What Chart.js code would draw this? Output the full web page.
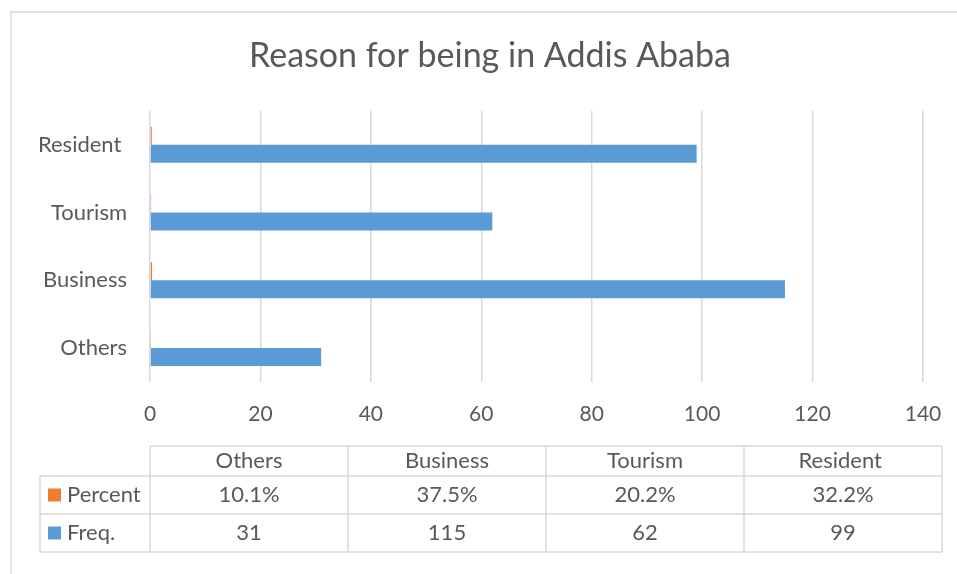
<!DOCTYPE html>
<html>
<head>
<meta charset="utf-8">
<script src="https://cdn.jsdelivr.net/npm/chart.js@4/dist/chart.umd.min.js"></script>
<style>
  html, body { margin: 0; padding: 0; background: #ffffff; }
  #wrap { position: relative; width: 957px; height: 574px; }
</style>
</head>
<body>
<div id="wrap"><canvas id="c" width="957" height="574"></canvas></div>
<script>
// Survey answers: reason for being in Addis Ababa
const categories = ['Others', 'Business', 'Tourism', 'Resident '];
const percentShare = [0.101, 0.375, 0.202, 0.322];
const freqCounts = [31, 115, 62, 99];
const seriesNames = ['Percent', 'Freq.'];
const xTicks = [0, 20, 40, 60, 80, 100, 120, 140];

const ORANGE = '#ED7D31';
const BLUE = '#5B9BD5';
const TEXT = '#595959';
const LINE = '#d9d9d9';
const FONT = 'Lato, "Open Sans", sans-serif';
const TICK_SIZE = 21;
const LABEL_SIZE = 22;

// outer frame of the chart object
const framePlugin = {
  id: 'frame',
  beforeDraw(chart) {
    const ctx = chart.ctx;
    ctx.save();
    ctx.strokeStyle = LINE;
    ctx.lineWidth = 1.5;
    ctx.beginPath();
    ctx.moveTo(11, chart.height);
    ctx.lineTo(11, 12);
    ctx.lineTo(chart.width, 12);
    ctx.stroke();
    ctx.restore();
  }
};

// data table under the value axis, one column per category
const dataTablePlugin = {
  id: 'dataTable',
  afterDraw(chart) {
    const ctx = chart.ctx;
    const area = chart.chartArea;
    const left = area.left;
    const right = area.right + 19;
    const labelLeft = 40;
    const rows = [446, 476, 514, 552];
    const colW = (right - left) / categories.length;
    const series = [
      { name: seriesNames[0], color: ORANGE, values: percentShare.map(v => (v * 100).toFixed(1) + '%') },
      { name: seriesNames[1], color: BLUE, values: freqCounts.map(v => String(v)) }
    ];

    ctx.save();
    ctx.strokeStyle = LINE;
    ctx.lineWidth = 1.5;
    ctx.beginPath();
    ctx.moveTo(left, rows[0]); ctx.lineTo(right, rows[0]);
    ctx.moveTo(labelLeft, rows[1]); ctx.lineTo(right, rows[1]);
    ctx.moveTo(labelLeft, rows[2]); ctx.lineTo(right, rows[2]);
    ctx.moveTo(labelLeft, rows[3]); ctx.lineTo(right, rows[3]);
    ctx.moveTo(labelLeft, rows[1]); ctx.lineTo(labelLeft, rows[3]);
    for (let i = 0; i <= categories.length; i++) {
      const x = left + i * colW;
      ctx.moveTo(x, rows[0]); ctx.lineTo(x, rows[3]);
    }
    ctx.stroke();

    ctx.fillStyle = TEXT;
    ctx.font = LABEL_SIZE + 'px ' + FONT;
    ctx.textAlign = 'center';
    ctx.textBaseline = 'middle';
    categories.forEach((c, i) => {
      ctx.fillText(c, left + (i + 0.5) * colW, (rows[0] + rows[1]) / 2);
    });
    series.forEach((s, r) => {
      const yMid = (rows[r + 1] + rows[r + 2]) / 2;
      ctx.fillStyle = s.color;
      ctx.fillRect(48, yMid - 6.5, 13, 13);
      ctx.fillStyle = TEXT;
      ctx.textAlign = 'left';
      ctx.fillText(s.name, 67, yMid);
      ctx.textAlign = 'center';
      s.values.forEach((v, i) => {
        ctx.fillText(v, left + (i + 0.5) * colW, yMid);
      });
    });
    ctx.restore();
  }
};

new Chart(document.getElementById('c'), {
  type: 'bar',
  data: {
    labels: categories,
    datasets: [
      { label: seriesNames[0], data: percentShare, backgroundColor: ORANGE, borderWidth: 0 },
      { label: seriesNames[1], data: freqCounts, backgroundColor: BLUE, borderWidth: 0 }
    ]
  },
  options: {
    indexAxis: 'y',
    responsive: false,
    animation: false,
    devicePixelRatio: 1,
    layout: { padding: { left: 30, right: 7, top: 0, bottom: 0 } },
    datasets: { bar: { barPercentage: 1, categoryPercentage: 0.53 } },
    plugins: {
      legend: { display: false },
      tooltip: { enabled: false },
      title: {
        display: true,
        text: 'Reason for being in Addis Ababa',
        color: TEXT,
        font: { family: FONT, size: 34, weight: 'normal', lineHeight: 1.2 },
        padding: { top: 36, bottom: 34 }
      }
    },
    scales: {
      x: {
        min: 0,
        max: 140,
        afterBuildTicks(scale) { scale.ticks = xTicks.map(v => ({ value: v })); },
        afterFit(scale) {
          scale.height = 192;
          scale.paddingLeft = 0;
          scale.paddingRight = 0;
        },
        grid: { color: LINE, lineWidth: 1.5, drawTicks: false },
        border: { display: false },
        ticks: { color: TEXT, padding: 20, font: { family: FONT, size: TICK_SIZE } }
      },
      y: {
        reverse: true,
        afterFit(scale) { scale.width = 120; },
        grid: { display: false, drawTicks: false },
        border: { display: false },
        ticks: { color: TEXT, padding: 23, font: { family: FONT, size: LABEL_SIZE } }
      },
      // empty spacer on the right edge of the plot
      yRight: {
        type: 'linear',
        position: 'right',
        afterFit(scale) { scale.width = 27; },
        grid: { display: false, drawTicks: false },
        border: { display: false },
        ticks: { display: false }
      }
    }
  },
  plugins: [framePlugin, dataTablePlugin]
});
</script>
</body>
</html>
